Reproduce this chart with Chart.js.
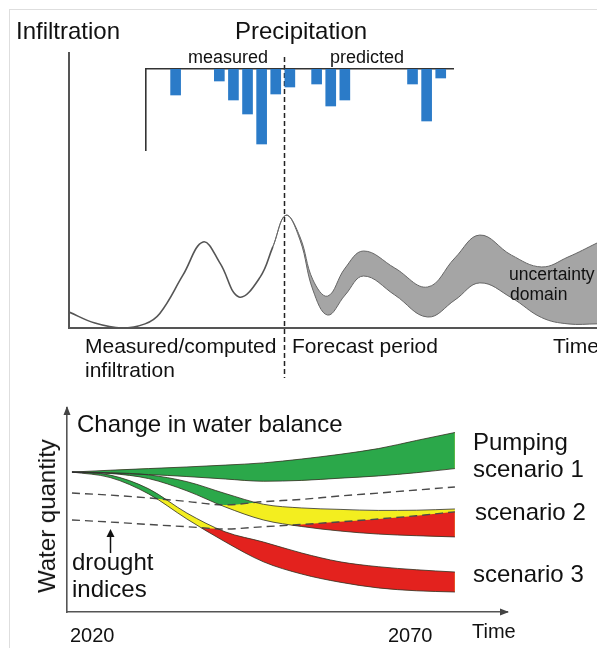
<!DOCTYPE html>
<html>
<head>
<meta charset="utf-8">
<script src="https://cdn.jsdelivr.net/npm/chart.js@4.4.1/dist/chart.umd.min.js"></script>
<style>
  body { margin: 0; background: #fff; }
  #wrap { position: relative; width: 597px; height: 648px; overflow: hidden;
          font-family: "Liberation Sans", Arial, sans-serif; color: #111; }
  #wrap canvas { position: absolute; left: 0; }
  .lbl { position: absolute; white-space: nowrap; line-height: 1; }
  #frame { position: absolute; left: 9px; top: 9px; width: 600px; height: 650px;
           border-top: 1px solid #dedede; border-left: 1px solid #dedede; }
</style>
</head>
<body>
<div id="wrap">
  <div id="frame"></div>
  <canvas id="infil" width="597" height="400" style="top:0"></canvas>
  <canvas id="precip" width="597" height="160" style="top:0"></canvas>
  <canvas id="balance" width="597" height="258" style="top:390px"></canvas>
</div>
<script>
// precipitation bars: position (months) and depth (mm)
const rainMonths = [2.1, 5.2, 6.2, 7.2, 8.2, 9.2, 10.2, 12.1, 13.1, 14.1, 18.9, 19.9, 20.9];
const rainDepth = [26, 12, 31, 45, 75, 25, 18, 15, 37, 31, 15, 52, 9];

// infiltration, time 0-100
const measuredT = [0, 4.9, 10, 14.4, 17.2, 21.6, 25.4, 28.6, 32.2, 36.2, 38.6];
const measuredV = [5.8, 1.8, 0, 1.5, 5.3, 19.3, 31.3, 23.6, 11.3, 18.5, 29.5];
const bandT = [38.6, 41.1, 43.75, 46.2, 49, 52.3, 55.8, 61.7, 67.9, 73.1, 77.8, 83.8, 89.5, 94.5, 100];
const bandHigh = [29.5, 41, 33.1, 17.5, 11.6, 21.8, 28, 21.8, 14.9, 25.5, 33.8, 26.5, 22.2, 25.8, 30.9];
const bandLow = [29.5, 41, 32.0, 13.8, 4.7, 12.0, 18.9, 12.0, 4.0, 10.2, 16.4, 11.0, 3.8, 1.5, 1.5];
const forecastStart = 40.7;

// change in water balance
const years = [2020, 2025, 2030, 2035, 2040, 2045, 2050, 2055, 2060, 2065, 2070];
const s1High = [68.6, 69.5, 70.3, 71.1, 72.0, 73.1, 75.0, 77.3, 80.1, 84.1, 88.0];
const s1Low = [68.6, 68.0, 67.4, 66.4, 65.2, 64.1, 64.5, 65.6, 66.7, 68.3, 70.3];
const s2High = [68.6, 68.3, 67.2, 63.9, 58.1, 52.8, 51.0, 50.3, 49.8, 49.9, 50.5];
const s2Low = [68.6, 67.9, 65.4, 59.4, 51.5, 45.1, 41.9, 39.7, 38.2, 37.4, 36.8];
const s3High = [68.6, 67.1, 60.4, 48.5, 39.3, 34.3, 28.9, 24.6, 22.2, 20.7, 19.6];
const s3Low = [68.6, 65.9, 57.9, 45.6, 34.4, 24.6, 18.6, 14.6, 11.8, 10.4, 9.8];
const drought1 = [58.3, 57.3, 55.9, 54.2, 52.5, 54.1, 55.2, 56.9, 58.3, 59.8, 61.3];
const drought2 = [45.1, 44.1, 42.9, 41.8, 40.7, 41.8, 42.9, 44.2, 45.6, 47.2, 49.1];
const pointerYear = 2025;

const GREEN = '#2ba84a', YELLOW = '#f3ee1f', RED = '#e3221e';

const pts = (xs, ys) => xs.map((x, i) => ({ x, y: ys[i] }));

function bare(extra) {
  return Object.assign({
    grid: { display: false, drawTicks: false },
    ticks: { display: false },
    border: { color: '#555', width: 2 }
  }, extra);
}

function baseOptions(padding, scales, line) {
  return {
    responsive: false,
    animation: false,
    events: [],
    layout: { padding },
    plugins: { legend: { display: false }, tooltip: { enabled: false } },
    elements: { point: { radius: 0 }, line },
    scales
  };
}

// dashed line between measured and forecast part
const forecastLine = {
  id: 'forecastLine',
  afterDatasetsDraw(chart) {
    const { ctx, chartArea: a, scales: { x } } = chart;
    const px = Math.round(x.getPixelForValue(forecastStart)) + 0.5;
    ctx.save();
    ctx.strokeStyle = '#222';
    ctx.lineWidth = 1.5;
    ctx.setLineDash([5, 3]);
    ctx.beginPath();
    ctx.moveTo(px, a.top + 4);
    ctx.lineTo(px, a.bottom + 50);
    ctx.stroke();
    ctx.restore();
  }
};

new Chart(document.getElementById('infil'), {
  type: 'line',
  data: {
    datasets: [
      { data: pts(measuredT, measuredV), borderColor: '#555', borderWidth: 1.6, fill: false },
      { data: pts(bandT, bandLow), borderColor: '#666', borderWidth: 1, fill: false },
      { data: pts(bandT, bandHigh), borderColor: '#666', borderWidth: 1,
        backgroundColor: '#a5a5a5', fill: '-1' }
    ]
  },
  options: baseOptions({ left: 69, top: 53, right: 0, bottom: 72 }, {
    x: bare({ type: 'linear', min: 0, max: 100 }),
    y: bare({ min: 0, max: 100 })
  }, { tension: 0.4 }),
  plugins: [forecastLine]
});

new Chart(document.getElementById('precip'), {
  type: 'bar',
  data: {
    datasets: [{
      data: pts(rainMonths, rainDepth),
      backgroundColor: '#2b7bc8',
      borderWidth: 0,
      barThickness: 10
    }]
  },
  options: baseOptions({ left: 146, top: 69, right: 144, bottom: 10 }, {
    x: bare({ type: 'linear', position: 'top', min: 0, max: 21.77, offset: false,
              border: { color: '#333', width: 1.6 } }),
    y: bare({ reverse: true, min: 0, max: 81, border: { color: '#333', width: 1.6 } })
  })
});

// colour each scenario band by the drought zone it lies in
const zones = {
  id: 'zones',
  beforeDatasetsDraw(chart) {
    const { ctx, chartArea: a } = chart;
    const line = i => {
      const l = chart.getDatasetMeta(i).dataset;
      l.updateControlPoints(a, 'x');
      return l;
    };
    const edge = (l, y) => {
      const p = l.points;
      ctx.beginPath();
      l.path(ctx);
      ctx.lineTo(p[p.length - 1].x, y);
      ctx.lineTo(p[0].x, y);
      ctx.closePath();
    };
    const d1 = line(6), d2 = line(7);
    [0, 2, 4].forEach(i => {
      ctx.save();
      edge(line(i), a.bottom);
      ctx.clip();
      edge(line(i + 1), a.top);
      ctx.clip();
      ctx.fillStyle = YELLOW;
      ctx.fillRect(a.left, a.top, a.width, a.height);
      edge(d1, a.top);
      ctx.fillStyle = GREEN;
      ctx.fill();
      edge(d2, a.bottom);
      ctx.fillStyle = RED;
      ctx.fill();
      ctx.restore();
    });
  }
};

const arrows = {
  id: 'arrows',
  afterDraw(chart) {
    const { ctx, chartArea: a, scales: { x, y } } = chart;
    ctx.save();
    ctx.fillStyle = '#444';
    ctx.beginPath();
    ctx.moveTo(a.left, a.top - 2);
    ctx.lineTo(a.left - 3.5, a.top + 7);
    ctx.lineTo(a.left + 3.5, a.top + 7);
    ctx.fill();
    ctx.beginPath();
    ctx.moveTo(a.right + 2, a.bottom);
    ctx.lineTo(a.right - 7, a.bottom - 3.5);
    ctx.lineTo(a.right - 7, a.bottom + 3.5);
    ctx.fill();
    // pointer to the drought index lines
    const ax = Math.round(x.getPixelForValue(pointerYear)) + 0.5;
    const ay = y.getPixelForValue(drought2[1]);
    ctx.strokeStyle = '#111';
    ctx.fillStyle = '#111';
    ctx.lineWidth = 1.5;
    ctx.beginPath();
    ctx.moveTo(ax, ay + 31);
    ctx.lineTo(ax, ay + 13);
    ctx.stroke();
    ctx.beginPath();
    ctx.moveTo(ax, ay + 7);
    ctx.lineTo(ax - 4, ay + 15);
    ctx.lineTo(ax + 4, ay + 15);
    ctx.fill();
    ctx.restore();
  }
};

const edgeLine = data => ({ data, borderColor: '#2e2e2e', borderWidth: 0.8, fill: false });
const dashLine = data => ({ data, borderColor: '#4a4a4a', borderWidth: 1.4, borderDash: [8, 5], fill: false });

new Chart(document.getElementById('balance'), {
  type: 'line',
  data: {
    datasets: [
      edgeLine(pts(years, s1High)), edgeLine(pts(years, s1Low)),
      edgeLine(pts(years, s2High)), edgeLine(pts(years, s2Low)),
      edgeLine(pts(years, s3High)), edgeLine(pts(years, s3Low)),
      dashLine(pts(years, drought1)), dashLine(pts(years, drought2))
    ]
  },
  options: baseOptions({ left: 67, top: 18, right: 90, bottom: 36 }, {
    x: bare({ type: 'linear', min: 2019.35, max: 2076.8, border: { color: '#555', width: 1.6 } }),
    y: bare({ min: 0, max: 100, border: { color: '#555', width: 1.6 } })
  }, { cubicInterpolationMode: 'monotone' }),
  plugins: [zones, arrows]
});

// text
const wrap = document.getElementById('wrap');
const labels = [
  ['Infiltration', 16, 39, 24], ['Precipitation', 235, 39, 24],
  ['measured', 188, 63, 18], ['predicted', 330, 63, 18],
  ['Measured/computed', 85, 353, 21], ['infiltration', 85, 377, 21],
  ['Forecast period', 292, 353, 21], ['Time', 553, 353, 21],
  ['uncertainty', 509, 281, 17.5], ['domain', 510, 301, 17.5],
  ['Change in water balance', 77, 432, 24],
  ['drought', 72, 570, 24], ['indices', 72, 597, 24],
  ['Pumping', 473, 450, 24], ['scenario 1', 473, 477, 24],
  ['scenario 2', 475, 520, 24], ['scenario 3', 473, 582, 24],
  ['2020', 70, 642, 20], ['2070', 388, 642, 20], ['Time', 472, 638, 20]
];
for (const [text, x, base, size] of labels) {
  const d = document.createElement('div');
  d.className = 'lbl';
  d.textContent = text;
  d.style.left = x + 'px';
  d.style.top = (base - 0.8465 * size) + 'px';
  d.style.fontSize = size + 'px';
  wrap.appendChild(d);
}
const yTitle = document.createElement('div');
yTitle.className = 'lbl';
yTitle.textContent = 'Water quantity';
yTitle.style.fontSize = '24px';
yTitle.style.left = '46.7px';
yTitle.style.top = '516px';
yTitle.style.transform = 'translate(-50%, -50%) rotate(-90deg)';
wrap.appendChild(yTitle);
</script>
</body>
</html>
